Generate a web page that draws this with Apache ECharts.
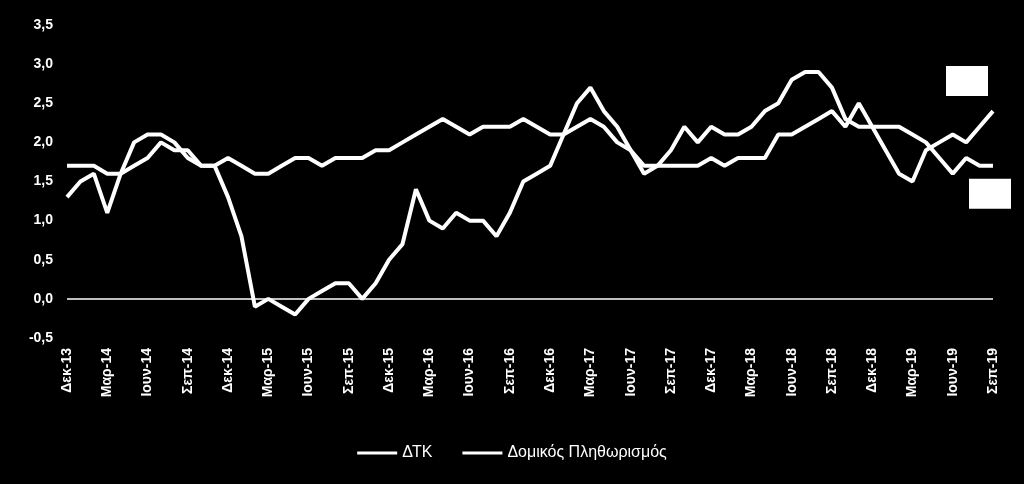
<!DOCTYPE html>
<html><head><meta charset="utf-8">
<script src="https://cdn.jsdelivr.net/npm/echarts@6/dist/echarts.min.js"></script>
<style>html,body{margin:0;background:#000}#c{width:1024px;height:484px}</style>
</head><body><div id="c"></div>
<script>
const months = ['Ιαν','Φεβ','Μαρ','Απρ','Μαϊ','Ιουν','Ιουλ','Αυγ','Σεπ','Οκτ','Νοε','Δεκ'];
const categories = [];
categories.push('Δεκ-13');
for (let y = 14; y <= 19; y++) for (let m = 0; m < 12; m++) { if (y === 19 && m > 8) break; categories.push(months[m] + '-' + y); }
const dtk = [1.3,1.5,1.6,1.1,1.6,2.0,2.1,2.1,2.0,1.8,1.7,1.7,1.3,0.8,-0.1,0.0,-0.1,-0.2,0.0,0.1,0.2,0.2,0.0,0.2,0.5,0.7,1.4,1.0,0.9,1.1,1.0,1.0,0.8,1.1,1.5,1.6,1.7,2.1,2.5,2.7,2.4,2.2,1.9,1.6,1.7,1.9,2.2,2.0,2.2,2.1,2.1,2.2,2.4,2.5,2.8,2.9,2.9,2.7,2.3,2.2,2.2,2.2,2.2,2.1,2.0,1.8,1.6,1.8,1.7,1.7];
const core = [1.7,1.7,1.7,1.6,1.6,1.7,1.8,2.0,1.9,1.9,1.7,1.7,1.8,1.7,1.6,1.6,1.7,1.8,1.8,1.7,1.8,1.8,1.8,1.9,1.9,2.0,2.1,2.2,2.3,2.2,2.1,2.2,2.2,2.2,2.3,2.2,2.1,2.1,2.2,2.3,2.2,2.0,1.9,1.7,1.7,1.7,1.7,1.7,1.8,1.7,1.8,1.8,1.8,2.1,2.1,2.2,2.3,2.4,2.2,2.5,2.2,1.9,1.6,1.5,1.9,2.0,2.1,2.0,2.2,2.4];
const yTicks = {min:-0.5, max:3.5, interval:0.5};
const font = 'Liberation Sans';
const last = categories.length - 1;
const chart = echarts.init(document.getElementById('c'));
chart.setOption({
  backgroundColor:'#000',
  animation:false,
  grid:{left:67,right:31,top:25,bottom:146},
  legend:{bottom:18,left:'center',itemWidth:40,itemGap:30,icon:'path://M0,0H40V3H0Z',
    textStyle:{color:'#fff',fontFamily:font,fontSize:16},
    data:['ΔΤΚ','Δομικός Πληθωρισμός']},
  xAxis:{type:'category',data:categories,boundaryGap:false,
    axisLine:{show:false,onZero:false},axisTick:{show:false},
    axisLabel:{color:'#fff',rotate:90,interval:2,fontFamily:font,fontSize:14,fontWeight:'bold',margin:10}},
  yAxis:{type:'value',min:yTicks.min,max:yTicks.max,interval:yTicks.interval,
    axisLine:{show:false},axisTick:{show:false},splitLine:{show:false},
    axisLabel:{color:'#fff',fontFamily:font,fontSize:14,fontWeight:'bold',margin:14,
      formatter:v=>v.toFixed(1).replace('.',',')}},
  series:[
    {name:'ΔΤΚ',type:'line',data:dtk,symbol:'none',lineStyle:{color:'#fff',width:4},itemStyle:{color:'#fff'},
      markLine:{silent:true,symbol:'none',label:{show:false},lineStyle:{color:'#fff',width:1.5,type:'solid'},data:[{yAxis:0}]},
      markPoint:{symbol:'rect',symbolSize:[42,30],symbolOffset:[-3,28],itemStyle:{color:'#fff'},label:{show:false},
        data:[{coord:[last,dtk[last]]}]}},
    {name:'Δομικός Πληθωρισμός',type:'line',data:core,symbol:'none',lineStyle:{color:'#fff',width:4},itemStyle:{color:'#fff'},
      markPoint:{symbol:'rect',symbolSize:[42,30],symbolOffset:[-26,-30],itemStyle:{color:'#fff'},label:{show:false},
        data:[{coord:[last,core[last]]}]}}
  ]
});
</script></body></html>
